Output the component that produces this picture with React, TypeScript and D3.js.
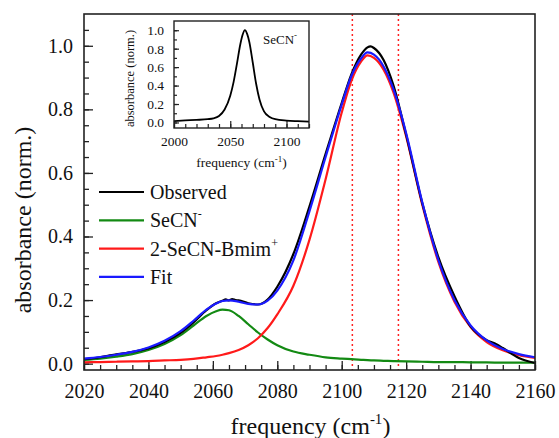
import React, {useEffect, useRef} from "react";
import * as d3 from "d3";

// main panel grid (cm-1)
const freq = [2020, 2025, 2030, 2035, 2040, 2045, 2050, 2054, 2058, 2061, 2063, 2065, 2068, 2071, 2074, 2077, 2080, 2085, 2090, 2095, 2100, 2103, 2106, 2108, 2110, 2113, 2116, 2120, 2125, 2130, 2135, 2140, 2145, 2150, 2155, 2160];
const secn = [0.012, 0.016, 0.022, 0.030, 0.043, 0.062, 0.090, 0.120, 0.150, 0.165, 0.170, 0.168, 0.150, 0.124, 0.098, 0.076, 0.058, 0.038, 0.028, 0.020, 0.016, 0.014, 0.012, 0.011, 0.010, 0.009, 0.008, 0.007, 0.006, 0.005, 0.005, 0.004, 0.004, 0.003, 0.003, 0.003];
const bmim = [0.004, 0.005, 0.006, 0.007, 0.008, 0.010, 0.012, 0.015, 0.020, 0.024, 0.028, 0.033, 0.043, 0.058, 0.080, 0.112, 0.155, 0.245, 0.390, 0.580, 0.790, 0.890, 0.950, 0.970, 0.962, 0.925, 0.855, 0.715, 0.500, 0.320, 0.195, 0.115, 0.068, 0.042, 0.027, 0.018];
const fit = [0.016, 0.021, 0.028, 0.037, 0.051, 0.072, 0.102, 0.135, 0.170, 0.189, 0.197, 0.199, 0.195, 0.188, 0.186, 0.198, 0.230, 0.325, 0.480, 0.650, 0.815, 0.905, 0.960, 0.979, 0.972, 0.935, 0.865, 0.725, 0.508, 0.326, 0.200, 0.120, 0.073, 0.046, 0.030, 0.020];

// observed spectrum
const obsFreq = [2020, 2025, 2028, 2030, 2033, 2035, 2040, 2045, 2050, 2054, 2058, 2061, 2063, 2064, 2065, 2066, 2067, 2068, 2071, 2074, 2077, 2080, 2085, 2090, 2095, 2100, 2103, 2106, 2108, 2109, 2110, 2113, 2116, 2120, 2125, 2130, 2135, 2140, 2145, 2148, 2150, 2155, 2160];
const obsAbs = [0.014, 0.020, 0.026, 0.029, 0.033, 0.037, 0.048, 0.068, 0.097, 0.130, 0.168, 0.190, 0.198, 0.202, 0.199, 0.203, 0.200, 0.199, 0.190, 0.186, 0.202, 0.242, 0.345, 0.495, 0.660, 0.820, 0.910, 0.972, 0.995, 0.998, 0.993, 0.955, 0.877, 0.720, 0.505, 0.335, 0.212, 0.117, 0.074, 0.061, 0.049, 0.018, 0.002];

const markers = [2103.3, 2117.6];

// inset: SeCN- reference spectrum
const insetFreq = [2000, 2010, 2020, 2030, 2035, 2040, 2045, 2050, 2053, 2056, 2059, 2061, 2063, 2065, 2067, 2070, 2073, 2076, 2080, 2085, 2090, 2100, 2110, 2120];
const insetAbs = [0.015, 0.022, 0.028, 0.036, 0.045, 0.07, 0.14, 0.29, 0.44, 0.64, 0.85, 0.95, 1.0, 0.96, 0.87, 0.65, 0.42, 0.25, 0.12, 0.06, 0.035, 0.02, 0.014, 0.01];

const legendItems = [
    {name: "Observed", sup: "", color: "#000000"},
    {name: "SeCN", sup: "-", color: "#138a13"},
    {name: "2-SeCN-Bmim", sup: "+", color: "#ff1a1a"},
    {name: "Fit", sup: "", color: "#1a1aff"},
];

const font = "'Liberation Serif', 'Times New Roman', serif";

export default function App() {
    const svgRef = useRef(null);
    const width = 559;
    const height = 438;
    const plot = {left: 84, right: 535, top: 14, bottom: 370};
    const ins = {left: 174, right: 309, top: 21, bottom: 128};

    useEffect(() => {
        const svg = d3.select(svgRef.current);
        svg.selectAll("*").remove();
        svg.style("font-family", font);

        const x = d3.scaleLinear().domain([2020, 2160]).range([plot.left, plot.right]);
        const y = d3.scaleLinear().domain([-0.02, 1.1]).range([plot.bottom, plot.top]);

        svg.append("clipPath").attr("id", "clipMain")
            .append("rect")
            .attr("x", plot.left).attr("y", plot.top)
            .attr("width", plot.right - plot.left).attr("height", plot.bottom - plot.top);

        // minor ticks
        svg.append("g")
            .attr("transform", `translate(0,${plot.bottom})`)
            .call(d3.axisBottom(x).tickValues(d3.range(2020, 2161, 5)).tickSize(-5).tickFormat(() => ""));
        svg.append("g")
            .attr("transform", `translate(${plot.left},0)`)
            .call(d3.axisLeft(y).tickValues(d3.range(0, 1.06, 0.05)).tickSize(-5).tickFormat(() => ""));

        // major ticks
        svg.append("g")
            .attr("class", "xmain")
            .attr("transform", `translate(0,${plot.bottom})`)
            .call(d3.axisBottom(x).tickValues(d3.range(2020, 2161, 20)).tickSize(-9).tickPadding(14).tickFormat(d3.format("d")));
        svg.append("g")
            .attr("class", "ymain")
            .attr("transform", `translate(${plot.left},0)`)
            .call(d3.axisLeft(y).tickValues([0, 0.2, 0.4, 0.6, 0.8, 1.0]).tickSize(-9).tickPadding(11).tickFormat(d3.format(".1f")));

        svg.selectAll(".domain").remove();
        svg.selectAll(".tick line").attr("stroke", "#222").attr("stroke-width", 1.3);
        svg.selectAll(".xmain text, .ymain text")
            .attr("font-size", 20).attr("font-family", font).attr("fill", "#111");

        // reference markers
        markers.forEach(m => {
            svg.append("line")
                .attr("x1", x(m)).attr("x2", x(m))
                .attr("y1", plot.top).attr("y2", plot.bottom)
                .attr("stroke", "#ff2020").attr("stroke-width", 1.5)
                .attr("stroke-dasharray", "2,3");
        });

        const line = d3.line().curve(d3.curveMonotoneX);
        const series = [
            {vals: freq.map((f, i) => [x(f), y(secn[i])]), color: legendItems[1].color},
            {vals: freq.map((f, i) => [x(f), y(bmim[i])]), color: legendItems[2].color},
            {vals: obsFreq.map((f, i) => [x(f), y(obsAbs[i])]), color: legendItems[0].color},
            {vals: freq.map((f, i) => [x(f), y(fit[i])]), color: legendItems[3].color},
        ];
        const curves = svg.append("g").attr("clip-path", "url(#clipMain)");
        series.forEach(s => {
            curves.append("path")
                .attr("d", line(s.vals))
                .attr("fill", "none")
                .attr("stroke", s.color)
                .attr("stroke-width", 2.2);
        });

        // frame
        svg.append("rect")
            .attr("x", plot.left).attr("y", plot.top)
            .attr("width", plot.right - plot.left).attr("height", plot.bottom - plot.top)
            .attr("fill", "none").attr("stroke", "#222").attr("stroke-width", 1.6);

        // axis titles
        const xt = svg.append("text")
            .attr("x", (plot.left + plot.right) / 2 + 1).attr("y", 434)
            .attr("text-anchor", "middle").attr("font-size", 24).attr("fill", "#111");
        xt.append("tspan").text("frequency (cm");
        xt.append("tspan").attr("font-size", 15).attr("dy", -10).text("-1");
        xt.append("tspan").attr("dy", 10).text(")");

        svg.append("text")
            .attr("transform", `translate(31,220) rotate(-90)`)
            .attr("text-anchor", "middle").attr("font-size", 24).attr("fill", "#111")
            .text("absorbance (norm.)");

        // legend
        const lg = svg.append("g");
        legendItems.forEach((d, i) => {
            const ly = 192 + i * 28.3;
            lg.append("line")
                .attr("x1", 99).attr("x2", 144).attr("y1", ly).attr("y2", ly)
                .attr("stroke", d.color).attr("stroke-width", 2.2);
            const t = lg.append("text")
                .attr("x", 150).attr("y", ly + 7)
                .attr("font-size", 20).attr("fill", "#111");
            t.append("tspan").text(d.name);
            if (d.sup) t.append("tspan").attr("font-size", 12).attr("dy", -9).text(d.sup);
        });

        // inset
        const ix = d3.scaleLinear().domain([2000, 2120]).range([ins.left, ins.right]);
        const iy = d3.scaleLinear().domain([-0.06, 1.1]).range([ins.bottom, ins.top]);
        const inset = svg.append("g");
        inset.append("rect")
            .attr("x", ins.left).attr("y", ins.top)
            .attr("width", ins.right - ins.left).attr("height", ins.bottom - ins.top)
            .attr("fill", "white");
        inset.append("g")
            .attr("transform", `translate(0,${ins.bottom})`)
            .call(d3.axisBottom(ix).tickValues(d3.range(2000, 2121, 10)).tickSize(-4).tickFormat(() => ""));
        inset.append("g")
            .attr("transform", `translate(${ins.left},0)`)
            .call(d3.axisLeft(iy).tickValues(d3.range(0, 1.05, 0.1)).tickSize(-3).tickFormat(() => ""));
        inset.append("g")
            .attr("class", "ixt")
            .attr("transform", `translate(0,${ins.bottom})`)
            .call(d3.axisBottom(ix).tickValues([2000, 2050, 2100]).tickSize(-7).tickPadding(8).tickFormat(d3.format("d")));
        inset.append("g")
            .attr("class", "iyt")
            .attr("transform", `translate(${ins.left},0)`)
            .call(d3.axisLeft(iy).tickValues([0, 0.2, 0.4, 0.6, 0.8, 1.0]).tickSize(-5).tickPadding(10).tickFormat(d3.format(".1f")));
        inset.selectAll(".domain").remove();
        inset.selectAll(".tick line").attr("stroke", "#222").attr("stroke-width", 1.2);
        inset.selectAll(".ixt text, .iyt text")
            .attr("font-size", 13.5).attr("font-family", font).attr("fill", "#111");

        inset.append("path")
            .attr("d", line(insetFreq.map((f, i) => [ix(f), iy(insetAbs[i])])))
            .attr("fill", "none").attr("stroke", "#000").attr("stroke-width", 1.8);
        inset.append("rect")
            .attr("x", ins.left).attr("y", ins.top)
            .attr("width", ins.right - ins.left).attr("height", ins.bottom - ins.top)
            .attr("fill", "none").attr("stroke", "#222").attr("stroke-width", 1.4);

        const il = inset.append("text")
            .attr("x", 263).attr("y", 44).attr("font-size", 13).attr("fill", "#111");
        il.append("tspan").text("SeCN");
        il.append("tspan").attr("font-size", 9).attr("dy", -6).text("-");

        const ixl = inset.append("text")
            .attr("x", (ins.left + ins.right) / 2).attr("y", 167)
            .attr("text-anchor", "middle").attr("font-size", 13.5).attr("fill", "#111");
        ixl.append("tspan").text("frequency (cm");
        ixl.append("tspan").attr("font-size", 9).attr("dy", -5).text("-1");
        ixl.append("tspan").attr("dy", 5).text(")");

        inset.append("text")
            .attr("transform", `translate(134,${(ins.top + ins.bottom) / 2 + 4}) rotate(-90)`)
            .attr("text-anchor", "middle").attr("font-size", 12.5).attr("fill", "#111")
            .text("absorbance (norm.)");
    }, []);

    return <svg
        ref={svgRef}
        width={width}
        height={height}
        style={{position: "absolute", left: 0, top: 0, background: "white"}}
    />;
}
